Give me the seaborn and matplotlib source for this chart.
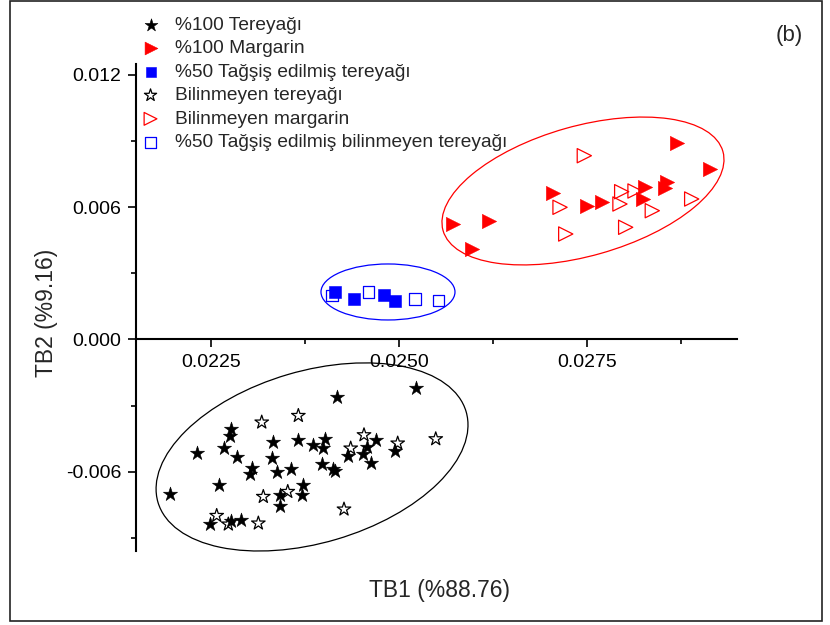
import numpy as np
import pandas as pd
import matplotlib
matplotlib.use("Agg")
import matplotlib.pyplot as plt
from matplotlib.patches import Ellipse, Rectangle
from matplotlib.ticker import MultipleLocator, FormatStrFormatter
from matplotlib.transforms import ScaledTranslation
import seaborn as sns

# PCA scores (TB1, TB2) per sample group
butter_x = [0.025229, 0.024182, 0.022765, 0.022755, 0.022320, 0.022676, 0.022852,
            0.023331, 0.023664, 0.023863, 0.024023, 0.023996, 0.024693, 0.024573,
            0.024528, 0.024328, 0.024949, 0.024630, 0.023318, 0.023975, 0.024121,
            0.024152, 0.023562, 0.023384, 0.023044, 0.023021, 0.021957, 0.022609,
            0.023722, 0.023709, 0.023420, 0.023420, 0.022489, 0.022765, 0.022898]
butter_y = [-0.002185, -0.002621, -0.004071, -0.004362, -0.005160, -0.004933, -0.005341,
            -0.004634, -0.004557, -0.004783, -0.004511, -0.004933, -0.004557, -0.004860,
            -0.005191, -0.005282, -0.005055, -0.005586, -0.005359, -0.005658, -0.005885,
            -0.005962, -0.005871, -0.006021, -0.005813, -0.006098, -0.007005, -0.006597,
            -0.006597, -0.007050, -0.007050, -0.007535, -0.008365, -0.008216, -0.008184]

margarine_x = [0.025725, 0.026200, 0.025977, 0.027047, 0.027507, 0.027698,
               0.028243, 0.028274, 0.028562, 0.028539, 0.028696, 0.029138]
margarine_y = [0.005223, 0.005373, 0.004090, 0.006656, 0.006053, 0.006220,
               0.006370, 0.006928, 0.007155, 0.006855, 0.008896, 0.007717]

adulterated_x = [0.024152, 0.024408, 0.024803, 0.024953]
adulterated_y = [0.002167, 0.001836, 0.002004, 0.001759]

unknown_butter_x = [0.023664, 0.023177, 0.024537, 0.024360, 0.024985, 0.025491,
                    0.023198, 0.023523, 0.024271, 0.022578, 0.022733, 0.023132]
unknown_butter_y = [-0.003455, -0.003754, -0.004330, -0.004933, -0.004706, -0.004511,
                    -0.007127, -0.006901, -0.007699, -0.007989, -0.008379, -0.008333]

unknown_margarine_x = [0.027467, 0.027144, 0.027220, 0.027964, 0.028141,
                       0.027941, 0.028371, 0.028017, 0.028895]
unknown_margarine_y = [0.008333, 0.005994, 0.004783, 0.006701, 0.006733,
                       0.006143, 0.005840, 0.005087, 0.006370]

unknown_adulterated_x = [0.024112, 0.024594, 0.025215, 0.025525]
unknown_adulterated_y = [0.002004, 0.002154, 0.001836, 0.001759]

group_names = ["%100 Tereyağı", "%100 Margarin", "%50 Tağşiş edilmiş tereyağı",
               "Bilinmeyen tereyağı", "Bilinmeyen margarin",
               "%50 Tağşiş edilmiş bilinmeyen tereyağı"]

frames = []
for name, xs, ys in zip(group_names,
                        [butter_x, margarine_x, adulterated_x,
                         unknown_butter_x, unknown_margarine_x, unknown_adulterated_x],
                        [butter_y, margarine_y, adulterated_y,
                         unknown_butter_y, unknown_margarine_y, unknown_adulterated_y]):
    frames.append(pd.DataFrame({"TB1": xs, "TB2": ys, "grup": name}))
scores = pd.concat(frames, ignore_index=True)

# marker, colour, filled, area (pt^2)
styles = {
    "%100 Tereyağı": ("*", "black", True, 115),
    "%100 Margarin": (">", "#ff0000", True, 105),
    "%50 Tağşiş edilmiş tereyağı": ("s", "#0000ff", True, 68),
    "Bilinmeyen tereyağı": ("*", "black", False, 105),
    "Bilinmeyen margarin": (">", "#ff0000", False, 105),
    "%50 Tağşiş edilmiş bilinmeyen tereyağı": ("s", "#0000ff", False, 68),
}

sns.set_style("white")
plt.rcParams["font.family"] = ["Liberation Sans", "DejaVu Sans"]

fig = plt.figure(figsize=(8.3, 6.25), dpi=100)
ax = fig.add_axes([0.1634, 0.1181, 0.7248, 0.7798])
ax.set_xlim(0.0215, 0.0295)
ax.set_ylim(-0.0096, 0.0125)

for name in group_names:
    marker, color, filled, size = styles[name]
    sub = scores[scores["grup"] == name]
    if filled:
        sns.scatterplot(data=sub, x="TB1", y="TB2", ax=ax, marker=marker, s=size,
                        color=color, edgecolor=color, linewidth=0.4, label=name,
                        clip_on=False, zorder=3)
    else:
        sns.scatterplot(data=sub, x="TB1", y="TB2", ax=ax, marker=marker, s=size,
                        facecolor="none", edgecolor=color, linewidth=0.9, label=name,
                        clip_on=False, zorder=3)

# cluster ellipses: centre (data), semi-axes (px), tilt (deg), colour
ellipses = [
    (0.027449, 0.006733, 145.4, 64.9, 15.8, "#ff0000"),
    (0.024856, 0.002154, 67.0, 28.0, 0.0, "#0000ff"),
    (0.023846, -0.005327, 160.6, 85.9, 16.4, "black"),
]
for cx, cy, a, b, ang, col in ellipses:
    e = Ellipse((0, 0), 2 * a, 2 * b, angle=ang, fill=False, edgecolor=col,
                linewidth=0.9, transform=ScaledTranslation(cx, cy, ax.transData),
                clip_on=False, zorder=2)
    ax.add_artist(e)

# axes in Origin style: x axis crossing at y = 0
for side in ["top", "right"]:
    ax.spines[side].set_visible(False)
ax.spines["bottom"].set_position(("data", 0))
for side in ["left", "bottom"]:
    ax.spines[side].set_linewidth(1.5)
    ax.spines[side].set_color("black")

ax.xaxis.set_major_locator(MultipleLocator(0.0025))
ax.xaxis.set_minor_locator(MultipleLocator(0.00125))
ax.yaxis.set_major_locator(MultipleLocator(0.006))
ax.yaxis.set_minor_locator(MultipleLocator(0.003))
ax.xaxis.set_major_formatter(FormatStrFormatter("%.4f"))
ax.yaxis.set_major_formatter(FormatStrFormatter("%.3f"))
ax.tick_params(which="major", direction="out", length=6, width=1.2,
               labelsize=14, pad=4.5, color="black", labelcolor="black")
ax.tick_params(which="minor", direction="out", length=3.5, width=1.2, color="black")
ax.tick_params(axis="x", which="both", bottom=True)
ax.tick_params(axis="y", which="both", left=True)
ax.set_xlabel("")
ax.set_ylabel("")
ax.grid(False)

fig.text(0.530, 0.056, "TB1 (%88.76)", fontsize=16.5, ha="center", va="center")
fig.text(0.0566, 0.499, "TB2 (%9.16)", fontsize=16.5, ha="center", va="center",
         rotation=90)
fig.text(0.9506, 0.944, "(b)", fontsize=16, ha="center", va="center")

handles, labels = ax.get_legend_handles_labels()
ax.legend(handles, labels, loc="upper left", bbox_to_anchor=(0.1675, 0.974),
          bbox_transform=fig.transFigure, frameon=False, fontsize=13.8,
          handletextpad=0.7, handlelength=1.2, labelspacing=0.32,
          borderpad=0, borderaxespad=0, markerscale=0.9)

fig.add_artist(Rectangle((10 / 830, 1 - 621 / 625), 812 / 830, 620 / 625,
                         transform=fig.transFigure, fill=False,
                         edgecolor="#222222", linewidth=1.2))

fig.savefig("out.png", dpi=100)
